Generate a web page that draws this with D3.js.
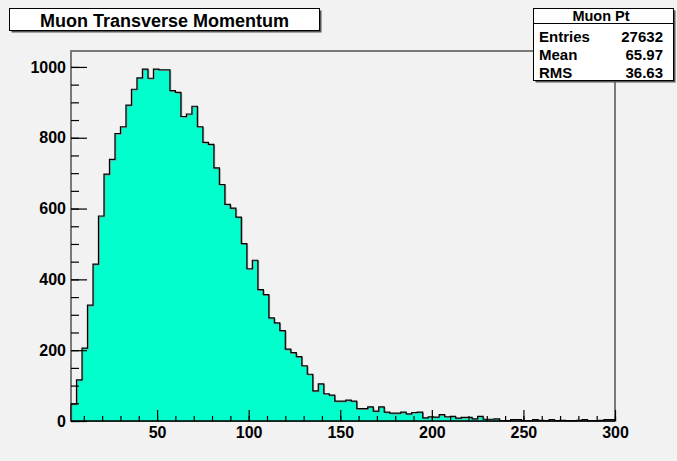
<!DOCTYPE html>
<html>
<head>
<meta charset="utf-8">
<script src="https://cdn.jsdelivr.net/npm/d3@7"></script>
<style>
  html, body { margin: 0; padding: 0; background: #f2f2f2; }
  svg { display: block; }
  text { font-family: "Liberation Sans", Arial, sans-serif; font-weight: bold; fill: #000; }
</style>
</head>
<body>
<svg id="chart" width="677" height="461"></svg>
<script>
// ---- data ----
const chartTitle = "Muon Transverse Momentum";
const histName = "Muon Pt";
const xMin = 3, xMax = 300, binWidth = 3;
const counts = [
  48, 116, 206, 327, 443, 579, 697, 739, 812, 831,
  892, 937, 969, 994, 968, 994, 992, 992, 933, 928,
  860, 867, 889, 831, 787, 781, 715, 668, 612, 601,
  576, 501, 430, 454, 371, 357, 291, 277, 255, 203,
  193, 182, 156, 132, 85, 105, 77, 73, 56, 56,
  59, 56, 35, 35, 40, 28, 40, 25, 22, 22,
  25, 20, 24, 25, 9, 12, 11, 18, 12, 13,
  8, 10, 10, 6, 13, 5, 5, 6, 1, 1,
  4, 4, 1, 1, 4, 2, 1, 4, 1, 2,
  1, 1, 2, 4, 1, 1, 2, 4, 4
];
const statLabels = ["Entries", "Mean", "RMS"];
const statValues = ["27632", "65.97", "36.63"];
const xMajorTicks = [50, 100, 150, 200, 250, 300];
const xMinorTicks = d3.range(10, 301, 10);
const yMajorTicks = [0, 200, 400, 600, 800, 1000];
const yMinorTicks = d3.range(0, 1046, 50);
const yTop = 1045;

// ---- layout ----
const svg = d3.select("#chart");
const pL = 71, pR = 615, pT = 51, pB = 421;
const x = d3.scaleLinear().domain([xMin, xMax]).range([pL, pR]);
const y = d3.scaleLinear().domain([0, yTop]).range([pB, pT]);

svg.append("rect").attr("x", 0).attr("y", 0).attr("width", 677).attr("height", 461).attr("fill", "#f2f2f2");

// frame
svg.append("rect").attr("x", pL).attr("y", pT).attr("width", pR - pL).attr("height", pB - pT)
  .attr("fill", "#f2f2f2").attr("stroke", "#7a7a7a").attr("stroke-width", 2);

// histogram step path
const pts = [[x(xMin), y(0)]];
counts.forEach((c, i) => {
  const lo = xMin + i * binWidth, hi = lo + binWidth;
  pts.push([x(lo), y(c)]);
  pts.push([x(hi), y(c)]);
});
pts.push([x(xMax), y(0)]);
const line = d3.line();
svg.append("path").attr("d", line(pts) + "Z").attr("fill", "#00ffcc").attr("stroke", "none");
svg.append("path").attr("d", line(pts)).attr("fill", "none").attr("stroke", "#8a8a8a").attr("stroke-width", 1)
  .attr("transform", "translate(0.8,0.8)");
svg.append("path").attr("d", line(pts)).attr("fill", "none").attr("stroke", "#000").attr("stroke-width", 1.2);

// axes
const fmt = d3.format("d");
const xMinorAxis = d3.axisBottom(x).tickValues(xMinorTicks).tickSizeInner(-5).tickSizeOuter(0).tickFormat("");
const xMajorAxis = d3.axisBottom(x).tickValues(xMajorTicks).tickSizeInner(-11).tickSizeOuter(0).tickPadding(6).tickFormat(fmt);
const yMinorAxis = d3.axisLeft(y).tickValues(yMinorTicks).tickSizeInner(-8).tickSizeOuter(0).tickFormat("");
const yMajorAxis = d3.axisLeft(y).tickValues(yMajorTicks).tickSizeInner(-16).tickSizeOuter(0).tickPadding(5).tickFormat(fmt);

function styleAxis(g) {
  g.select(".domain").remove();
  g.selectAll("line").attr("stroke", "#000").attr("stroke-width", 1.2);
  g.selectAll("text").style("font-size", "16px").style("font-family", '"Liberation Sans", Arial, sans-serif')
    .style("font-weight", "bold").attr("fill", "#000");
}
svg.append("g").attr("transform", `translate(0,${pB})`).call(xMinorAxis).call(styleAxis);
svg.append("g").attr("transform", `translate(0,${pB})`).call(xMajorAxis).call(styleAxis);
svg.append("g").attr("transform", `translate(${pL},0)`).call(yMinorAxis).call(styleAxis);
svg.append("g").attr("transform", `translate(${pL},0)`).call(yMajorAxis).call(styleAxis);

svg.append("line").attr("x1", pL).attr("x2", pR).attr("y1", pB).attr("y2", pB)
  .attr("stroke", "#000").attr("stroke-width", 1.5);

// title box
function shadowBox(bx, by, bw, bh) {
  svg.append("rect").attr("x", bx + 2).attr("y", by + 2).attr("width", bw).attr("height", bh).attr("fill", "#555");
  svg.append("rect").attr("x", bx).attr("y", by).attr("width", bw).attr("height", bh)
    .attr("fill", "#fff").attr("stroke", "#000").attr("stroke-width", 1);
}
shadowBox(9.5, 8.5, 310, 22);
svg.append("text").attr("x", 164.5).attr("y", 26.5).attr("text-anchor", "middle")
  .style("font-size", "18px").text(chartTitle);

// stats box
shadowBox(533.5, 8.5, 140, 72);
svg.append("line").attr("x1", 533.5).attr("x2", 673.5).attr("y1", 23.5).attr("y2", 23.5).attr("stroke", "#000");
svg.append("text").attr("x", 601).attr("y", 20.5).attr("text-anchor", "middle")
  .style("font-size", "14.5px").text(histName);
statLabels.forEach((lab, i) => {
  const by = 41.5 + i * 18.3;
  svg.append("text").attr("x", 539).attr("y", by).style("font-size", "15px").text(lab);
  svg.append("text").attr("x", 663).attr("y", by).attr("text-anchor", "end").style("font-size", "15px").text(statValues[i]);
});
</script>
</body>
</html>
